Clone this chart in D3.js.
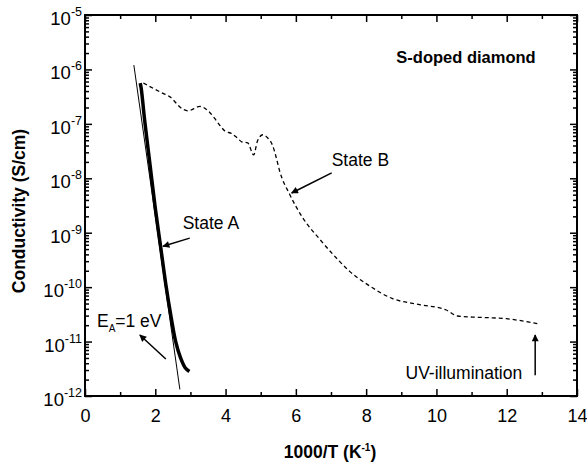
<!DOCTYPE html>
<html>
<head>
<meta charset="utf-8">
<script src="https://d3js.org/d3.v7.min.js"></script>
<style>
  body { margin: 0; background: #fff; }
  svg { display: block; font-family: "Liberation Sans", Arial, sans-serif; }
</style>
</head>
<body>
<div id="chart"></div>
<script>
// data: x = 1000/T, y = log10(conductivity)
const fitLine = [[1.39, -5.92], [2.70, -11.88]];               // E_A = 1 eV guide
const stateA = [[1.57, -6.25], [1.60, -6.35], [1.70, -6.95], [1.85, -7.75], [2.00, -8.55],
                [2.15, -9.25], [2.30, -9.95], [2.45, -10.55], [2.58, -11.0],
                [2.72, -11.3], [2.85, -11.48], [2.97, -11.55]];
const stateB = [[1.66, -6.25], [1.95, -6.35], [2.22, -6.44], [2.41, -6.50], [2.76, -6.72],
                [2.93, -6.76], [3.27, -6.68], [3.55, -6.79], [3.69, -6.90], [3.84, -7.03],
                [3.98, -7.13], [4.18, -7.18], [4.32, -7.25], [4.46, -7.33], [4.63, -7.35],
                [4.80, -7.57], [4.91, -7.31], [5.06, -7.20], [5.2, -7.26], [5.34, -7.40],
                [5.43, -7.59], [5.54, -7.87], [5.82, -8.29], [6.2, -8.73], [6.68, -9.12],
                [7.16, -9.47], [7.53, -9.71], [8.01, -9.94], [8.75, -10.21], [9.52, -10.32],
                [10.28, -10.42], [10.6, -10.53], [11.02, -10.55], [11.42, -10.56],
                [11.99, -10.58], [12.44, -10.62], [12.87, -10.67]];

const xTicks = [0, 2, 4, 6, 8, 10, 12, 14];
const xMinor = [1, 3, 5, 7, 9, 11, 13];
const yExps = [-12, -11, -10, -9, -8, -7, -6, -5];

const W = 587, H = 466;
const plot = { left: 85, right: 577, top: 15, bottom: 396 };

const svg = d3.select("#chart").append("svg")
    .attr("width", W).attr("height", H);

const x = d3.scaleLinear().domain([0, 14]).range([plot.left, plot.right]);
const y = d3.scaleLog().domain([1e-12, 1e-5]).range([plot.bottom, plot.top]);

const yMajor = yExps.map(e => Math.pow(10, e));
const yMinor = [];
yExps.slice(0, -1).forEach(e => {
    for (let k = 2; k <= 9; k++) yMinor.push(k * Math.pow(10, e));
});

// arrowhead
svg.append("defs").append("marker")
    .attr("id", "arrow")
    .attr("viewBox", "0 0 10 10")
    .attr("refX", 9).attr("refY", 5)
    .attr("markerWidth", 10).attr("markerHeight", 7)
    .attr("markerUnits", "userSpaceOnUse")
    .attr("orient", "auto")
    .append("path").attr("d", "M0,0 L10,5 L0,10 z").attr("fill", "#000");

// axes: ticks pointing inward on all four sides
function styleAxis(g) {
    g.select(".domain").remove();
    g.selectAll("line").attr("stroke", "#000").attr("stroke-width", 1.5);
}

svg.append("g").attr("transform", `translate(0,${plot.bottom})`)
    .call(d3.axisBottom(x).tickValues(xTicks).tickSize(-7).tickPadding(13).tickFormat(d3.format("d")))
    .call(styleAxis)
    .selectAll("text").attr("font-size", 18).attr("fill", "#000")
    .attr("font-family", "Liberation Sans, Arial, sans-serif");
svg.append("g").attr("transform", `translate(0,${plot.bottom})`)
    .call(d3.axisBottom(x).tickValues(xMinor).tickSize(-4).tickFormat(""))
    .call(styleAxis);
svg.append("g").attr("transform", `translate(0,${plot.top})`)
    .call(d3.axisTop(x).tickValues(xTicks).tickSize(-7).tickFormat(""))
    .call(styleAxis);
svg.append("g").attr("transform", `translate(0,${plot.top})`)
    .call(d3.axisTop(x).tickValues(xMinor).tickSize(-4).tickFormat(""))
    .call(styleAxis);

svg.append("g").attr("transform", `translate(${plot.left},0)`)
    .call(d3.axisLeft(y).tickValues(yMajor).tickSize(-7).tickFormat(""))
    .call(styleAxis);
svg.append("g").attr("transform", `translate(${plot.left},0)`)
    .call(d3.axisLeft(y).tickValues(yMinor).tickSize(-4).tickFormat(""))
    .call(styleAxis);
svg.append("g").attr("transform", `translate(${plot.right},0)`)
    .call(d3.axisRight(y).tickValues(yMajor).tickSize(-7).tickFormat(""))
    .call(styleAxis);
svg.append("g").attr("transform", `translate(${plot.right},0)`)
    .call(d3.axisRight(y).tickValues(yMinor).tickSize(-4).tickFormat(""))
    .call(styleAxis);

// frame
svg.append("rect")
    .attr("x", plot.left).attr("y", plot.top)
    .attr("width", plot.right - plot.left).attr("height", plot.bottom - plot.top)
    .attr("fill", "none").attr("stroke", "#000").attr("stroke-width", 2);

// y tick labels 10^n
const yLab = svg.append("g").selectAll("text")
    .data(yExps).enter().append("text")
    .attr("x", 82).attr("y", e => y(Math.pow(10, e)) + 10)
    .attr("text-anchor", "end").attr("font-size", 18.5).attr("fill", "#000");
yLab.append("tspan").text("10");
yLab.append("tspan").attr("dy", -9).attr("font-size", 12.5).text(e => "-" + Math.abs(e));

// axis titles
svg.append("text")
    .attr("transform", `translate(25,211) rotate(-90)`)
    .attr("text-anchor", "middle").attr("font-size", 17.5).attr("font-weight", "bold")
    .text("Conductivity (S/cm)");
const xt = svg.append("text")
    .attr("x", 330).attr("y", 458)
    .attr("text-anchor", "middle").attr("font-size", 17.5).attr("font-weight", "bold");
xt.append("tspan").text("1000/T (K");
xt.append("tspan").attr("dy", -7).attr("font-size", 10).text("-1");
xt.append("tspan").attr("dy", 7).text(")");

// curves
const line = d3.line().x(d => x(d[0])).y(d => y(Math.pow(10, d[1])));
const curve = d3.line().x(d => x(d[0])).y(d => y(Math.pow(10, d[1]))).curve(d3.curveMonotoneX);

svg.append("path").datum(fitLine).attr("d", line)
    .attr("fill", "none").attr("stroke", "#000").attr("stroke-width", 1);
svg.append("path").datum(stateB).attr("d", curve)
    .attr("fill", "none").attr("stroke", "#000").attr("stroke-width", 1.3)
    .attr("stroke-dasharray", "4,3");
svg.append("path").datum(stateA).attr("d", d3.line().x(d => x(d[0])).y(d => y(Math.pow(10, d[1]))).curve(d3.curveCatmullRom))
    .attr("fill", "none").attr("stroke", "#000").attr("stroke-width", 3.5)
    .attr("stroke-linejoin", "round");

// annotations (positions in data units)
const P = (a, b) => [x(a), y(Math.pow(10, b))];
function arrow(from, to) {
    const a = P(from[0], from[1]), b = P(to[0], to[1]);
    svg.append("line")
        .attr("x1", a[0]).attr("y1", a[1]).attr("x2", b[0]).attr("y2", b[1])
        .attr("stroke", "#000").attr("stroke-width", 1.5)
        .attr("marker-end", "url(#arrow)");
}
function label(pos, txt, size, bold) {
    const p = P(pos[0], pos[1]);
    return svg.append("text").attr("x", p[0]).attr("y", p[1])
        .attr("font-size", size).attr("font-weight", bold ? "bold" : "normal")
        .attr("fill", "#000").text(txt);
}

label([8.86, -5.89], "S-doped diamond", 16.5, true);
label([7.02, -7.77], "State B", 17.5);
arrow([7.02, -7.90], [5.88, -8.27]);
label([2.78, -8.94], "State A", 17.5);
arrow([2.98, -9.10], [2.22, -9.25]);
const ea = label([0.34, -10.73], "E", 17.5);
ea.append("tspan").attr("dy", 5).attr("font-size", 10).text("A");
ea.append("tspan").attr("dy", -5).text("=1 eV");
arrow([2.30, -11.32], [1.56, -10.88]);
label([9.12, -11.69], "UV-illumination", 17.5);
arrow([12.81, -11.62], [12.81, -10.88]);
</script>
</body>
</html>
